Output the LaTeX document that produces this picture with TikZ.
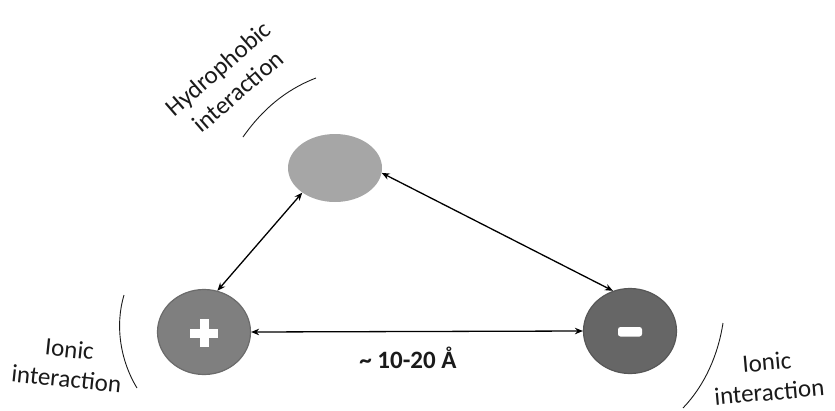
\documentclass[tikz,border=0pt]{standalone}
\usepackage{fontspec}
\setmainfont{Carlito}
\usetikzlibrary{shapes.geometric,arrows.meta}
\definecolor{lightg}{HTML}{A6A6A6}
\definecolor{plusg}{HTML}{7F7F7F}
\definecolor{plusb}{HTML}{6B6B6B}
\definecolor{minusg}{HTML}{666666}
\definecolor{minusb}{HTML}{575757}
\definecolor{txt}{HTML}{1A1A1A}
\tikzset{
  blob/.style={ellipse, inner sep=0pt},
  link/.style={line width=1.3pt, {Stealth[length=8pt,width=6.5pt]}-{Stealth[length=8pt,width=6.5pt]}},
  bracket/.style={line width=0.9pt, txt},
  lbl/.style={font=\fontsize{25}{30}\selectfont, text=txt, align=center, inner sep=0pt},
}
\begin{document}
\begin{tikzpicture}[x=1pt,y=-1pt]
\useasboundingbox (0,0) rectangle (835,410);
% nodes
\node[blob, fill=lightg, minimum width=94pt, minimum height=68pt] (h) at (335,168) {};
\node[blob, fill=plusg, draw=plusb, line width=1.2pt, minimum width=93pt, minimum height=85pt] (p) at (204,332) {};
\node[blob, fill=minusg, draw=minusb, line width=1.2pt, minimum width=93pt, minimum height=85pt] (m) at (630,331) {};
% signs
\fill[white] (190,328.5) rectangle (218,337.5);
\fill[white] (199.5,319) rectangle (208.5,347);
\fill[white, rounded corners=2.5pt] (618,327) rectangle (642,336.5);
% connectors
\draw[link] (h.217) -- (p.72);
\draw[link] (h.-6) -- (m.113);
\draw[link] (p.east) -- (m.west);
\node[lbl, font=\fontsize{25}{30}\selectfont\bfseries] (d) at (408,358) {\textasciitilde\ 10-20 Å};
% brackets
\draw[bracket] (243,137) .. controls (262,110) and (285,90) .. (316,78);
\draw[bracket] (124,295) .. controls (115,325) and (120,360) .. (137,388);
\draw[bracket] (723,323) .. controls (718,355) and (705,385) .. (683,408);
% labels
\node[lbl, rotate=41] (ht) at (228,80) {Hydrophobic\\interaction};
\node[lbl, rotate=-6] (il) at (68,364) {Ionic\\interaction};
\node[lbl, rotate=5] (ir) at (768,377) {Ionic\\interaction};
\end{tikzpicture}
\end{document}
